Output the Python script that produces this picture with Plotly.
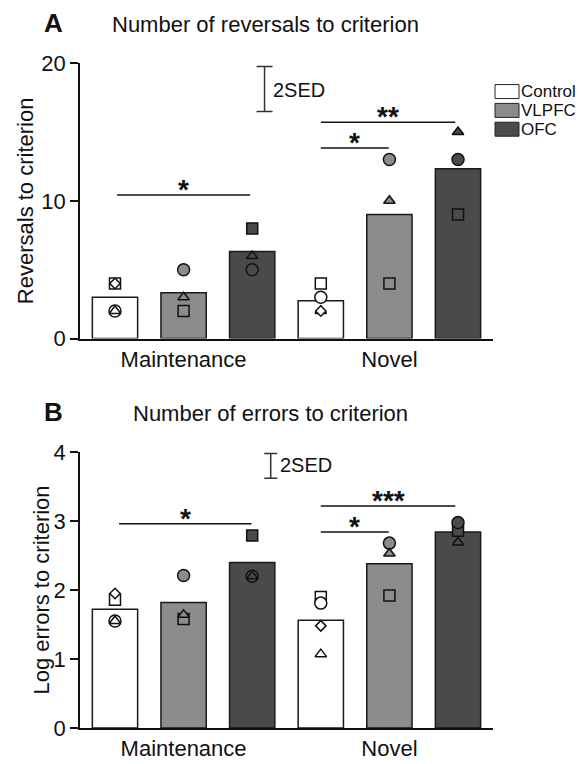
import plotly.graph_objects as go

W = 582
# The rendering maps figure y to picture y as: y_pic = 12 + 0.967 * y_fig
SY = 0.967
OFF = 12.0
H = 778

conditions = ["Maintenance", "Novel"]
groups = ["Control", "VLPFC", "OFC"]
group_colors = ["#ffffff", "#8c8c8c", "#4a4a4a"]

# Panel A: reversals to criterion (group means)
rev_control = [3.0, 2.75]
rev_vlpfc = [3.33, 9.0]
rev_ofc = [6.33, 12.33]
# individual subjects
rev_control_square = [4, 4]
rev_control_circle = [2, 3]
rev_control_triangle = [2, 2]
rev_control_diamond = [4, 2]
rev_vlpfc_square = [2, 4]
rev_vlpfc_circle = [5, 13]
rev_vlpfc_triangle = [3, 10]
rev_ofc_square = [8, 9]
rev_ofc_circle = [5, 13]
rev_ofc_triangle = [6, 15]
rev_sed2 = 3.27

# Panel B: log errors to criterion
err_control = [1.72, 1.56]
err_vlpfc = [1.82, 2.38]
err_ofc = [2.40, 2.84]
err_control_square = [1.86, 1.90]
err_control_circle = [1.55, 1.81]
err_control_triangle = [1.55, 1.07]
err_control_diamond = [1.95, 1.48]
err_vlpfc_square = [1.58, 1.92]
err_vlpfc_circle = [2.21, 2.68]
err_vlpfc_triangle = [1.64, 2.53]
err_ofc_square = [2.79, 2.86]
err_ofc_circle = [2.20, 2.98]
err_ofc_triangle = [2.20, 2.69]
err_sed2 = 0.36

FONT = "Liberation Sans, Arial, sans-serif"
XR = [-0.51, 5.51]
BW = 0.66

def px(x):
    return x / W

def py(y):
    return 1 - ((y - OFF) / SY) / H

fig = go.Figure()

def add_panel(xa, ya, means, pts):
    for gi, g in enumerate(groups):
        xs = [gi + 3 * ci for ci in range(len(conditions))]
        fig.add_trace(go.Bar(x=xs, y=means[gi], width=BW, name=g,
                             marker=dict(color=group_colors[gi], line=dict(color="#1a1a1a", width=1.5)),
                             xaxis=xa, yaxis=ya, showlegend=False))
    sym = {"square": ("square", 11), "circle": ("circle", 12),
           "triangle": ("triangle-up", 10), "diamond": ("diamond", 8)}
    for gi, g in enumerate(groups):
        xs = [gi + 3 * ci for ci in range(len(conditions))]
        for shape, vals in pts[gi]:
            s, sz = sym[shape]
            fig.add_trace(go.Scatter(x=xs, y=vals, mode="markers",
                                     marker=dict(symbol=s, size=sz, color=group_colors[gi],
                                                 line=dict(color="#111", width=1.5)),
                                     xaxis=xa, yaxis=ya, showlegend=False, hoverinfo="y"))

add_panel("x", "y", [rev_control, rev_vlpfc, rev_ofc],
          [[("square", rev_control_square), ("circle", rev_control_circle),
            ("triangle", rev_control_triangle), ("diamond", rev_control_diamond)],
           [("square", rev_vlpfc_square), ("circle", rev_vlpfc_circle), ("triangle", rev_vlpfc_triangle)],
           [("square", rev_ofc_square), ("circle", rev_ofc_circle), ("triangle", rev_ofc_triangle)]])
add_panel("x2", "y2", [err_control, err_vlpfc, err_ofc],
          [[("square", err_control_square), ("circle", err_control_circle),
            ("triangle", err_control_triangle), ("diamond", err_control_diamond)],
           [("square", err_vlpfc_square), ("circle", err_vlpfc_circle), ("triangle", err_vlpfc_triangle)],
           [("square", err_ofc_square), ("circle", err_ofc_circle), ("triangle", err_ofc_triangle)]])

# 2SED bars
fig.add_trace(go.Scatter(x=[2.18], y=[18.12], mode="markers", marker=dict(size=1, opacity=0),
                         error_y=dict(type="data", array=[rev_sed2 / 2], width=8, thickness=1.5, color="#333"),
                         xaxis="x", yaxis="y", showlegend=False, hoverinfo="skip"))
fig.add_trace(go.Scatter(x=[2.27], y=[3.80], mode="markers", marker=dict(size=1, opacity=0),
                         error_y=dict(type="data", array=[err_sed2 / 2], width=6.5, thickness=1.5, color="#333"),
                         xaxis="x2", yaxis="y2", showlegend=False, hoverinfo="skip"))

shapes = []
annotations = []

def sig(xref, yref, x0, x1, y, stars, fs=28):
    shapes.append(dict(type="line", xref=xref, yref=yref, x0=x0, x1=x1, y0=y, y1=y,
                       line=dict(color="#111", width=1.5)))
    annotations.append(dict(xref=xref, yref=yref, x=(x0 + x1) / 2, y=y, text=stars,
                            showarrow=False, yanchor="bottom", yshift=-12,
                            font=dict(family=FONT, size=fs, color="#111")))

sig("x", "y", 0.03, 1.97, 10.42, "<b>*</b>")
sig("x", "y", 3.0, 3.99, 13.84, "<b>*</b>")
sig("x", "y", 3.0, 4.96, 15.7, "<b>**</b>")
sig("x2", "y2", 0.06, 1.99, 2.96, "<b>*</b>")
sig("x2", "y2", 3.0, 3.99, 2.84, "<b>*</b>")
sig("x2", "y2", 3.0, 4.96, 3.22, "<b>***</b>")

def txt(x, y, t, size, xanchor="left", angle=0, bold=False):
    annotations.append(dict(xref="paper", yref="paper", x=px(x), y=py(y), text=("<b>%s</b>" % t) if bold else t,
                            showarrow=False, xanchor=xanchor, yanchor="middle", textangle=angle,
                            font=dict(family=FONT, size=size, color="#111")))

txt(53, 23, "A", 26, "center", bold=True)
txt(110, 24, "Number of reversals to criterion", 22)
txt(53, 412, "B", 26, "center", bold=True)
txt(131, 413, "Number of errors to criterion", 22)
txt(25, 201, "Reversals to criterion", 22, "center", -90)
txt(42, 590, "Log errors to criterion", 22, "center", -90)
txt(271, 90, "2SED", 20)
txt(278, 465, "2SED", 20)

# legend
leg_rows = [91.5, 110.3, 129.1]
for gi, g in enumerate(groups):
    yc = leg_rows[gi]
    shapes.append(dict(type="rect", xref="paper", yref="paper", x0=px(495), x1=px(519),
                       y0=py(yc - 7), y1=py(yc + 7), fillcolor=group_colors[gi],
                       line=dict(color="#222", width=1)))
    txt(519, yc, g, 17)

axis_common = dict(range=XR, showgrid=False, zeroline=False, showline=True, linecolor="#111", linewidth=1.5,
                   ticks="", tickvals=[1, 4], ticktext=conditions, fixedrange=True,
                   tickfont=dict(family=FONT, size=22, color="#111"))
yaxis_common = dict(showgrid=False, zeroline=False, showline=True, linecolor="#111", linewidth=1.5,
                    ticks="outside", ticklen=8, tickwidth=1.5, tickcolor="#111",
                    tickfont=dict(family=FONT, size=22, color="#111"))

fig.update_layout(
    width=W, height=H,
    margin=dict(l=0, r=0, t=0, b=0),
    paper_bgcolor="white", plot_bgcolor="white",
    showlegend=False, barmode="overlay",
    xaxis=dict(domain=[80 / W, 493 / W], anchor="y", **axis_common),
    xaxis2=dict(domain=[80 / W, 493 / W], anchor="y2", **axis_common),
    yaxis=dict(domain=[py(338.3), py(63)], range=[0, 20], tickvals=[0, 10, 20], anchor="x", **yaxis_common),
    yaxis2=dict(domain=[py(727.3), py(451.7)], range=[0, 4], tickvals=[0, 1, 2, 3, 4], anchor="x2", **yaxis_common),
    shapes=shapes, annotations=annotations,
)

fig.write_html("out.html", config={"displayModeBar": False},
               post_script="document.body.style.margin='0';document.body.style.overflow='hidden';"
                           "document.documentElement.style.overflow='hidden';")
